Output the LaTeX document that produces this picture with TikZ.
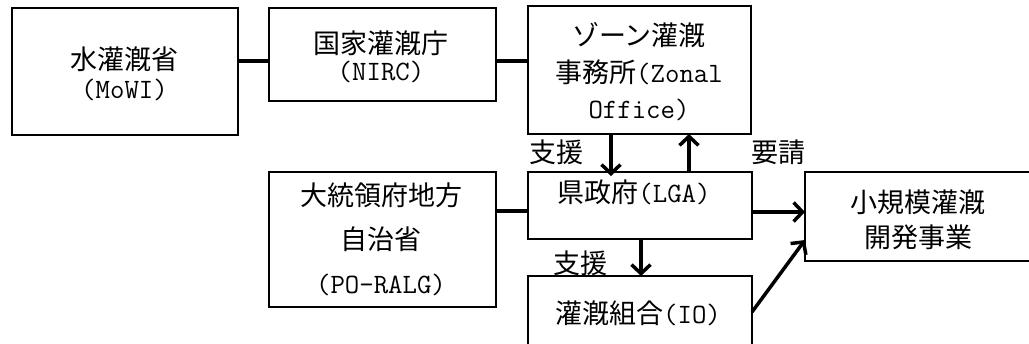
\documentclass[tikz,border=0pt]{standalone}
\usepackage{fontspec}
\newfontfamily\jp{Noto Sans CJK JP}
\usetikzlibrary{arrows.meta}
\newcommand\latn[1]{{\ttfamily\fontsize{28}{29}\selectfont #1}}
\tikzset{
  box/.style={draw, line width=1.8pt, rectangle, inner sep=0pt, outer sep=0pt},
  txt/.style={inner sep=0pt, align=center},
  conn/.style={line width=3.5pt},
  arr/.style={line width=3.5pt, -{Straight Barb[length=9pt,width=19pt]}},
}
\begin{document}
\begin{tikzpicture}[x=1pt,y=-1pt]
\clip (0,0) rectangle (1029,343);
\fill[white] (0,0) rectangle (1029,343);
% boxes
\node[box, minimum width=226pt, minimum height=127pt] (A) at (125,71.5) {};
\node[box, minimum width=227pt, minimum height=93pt] (B) at (382.5,54.5) {};
\node[box, minimum width=223pt, minimum height=128pt] (C) at (639.5,70) {};
\node[box, minimum width=227pt, minimum height=135pt] (D) at (382.5,239.5) {};
\node[box, minimum width=224pt, minimum height=67pt] (E) at (640,205.5) {};
\node[box, minimum width=224pt, minimum height=104pt] (F) at (640,328) {};
\node[box, minimum width=255pt, minimum height=89pt] (G) at (932.5,216.5) {};
% texts
\node[txt, font=\jp\fontsize{27}{29}\selectfont] (tA) at (124.5,74) {水灌漑省\\\latn{(MoWI)}};
\node[txt, font=\jp\fontsize{27}{27}\selectfont] (tB) at (381,57) {国家灌漑庁\\\latn{(NIRC)}};
\node[txt, font=\jp\fontsize{27}{36.5}\selectfont] (tC) at (639,72) {ゾーン灌漑\\事務所\latn{(Zonal}\\\latn{Office)}};
\node[txt, font=\jp\fontsize{27}{44}\selectfont] (tD) at (381,239) {大統領府地方\\自治省\\\latn{(PO-RALG)}};
\node[txt, font=\jp\fontsize{27}{29}\selectfont] (tE) at (634,192.5) {県政府\latn{(LGA)}};
\node[txt, font=\jp\fontsize{27}{29}\selectfont] (tF) at (638,313) {灌漑組合\latn{(IO)}};
\node[txt, font=\jp\fontsize{27}{35}\selectfont] (tG) at (918,219.5) {小規模灌漑\\開発事業};
% labels
\node[txt, font=\jp\fontsize{27}{29}\selectfont] (l1) at (556,152) {支援};
\node[txt, font=\jp\fontsize{27}{29}\selectfont] (l2) at (778,152) {要請};
\node[txt, font=\jp\fontsize{27}{29}\selectfont] (l3) at (580,263) {支援};
% connectors
\draw[conn] (A.east |- 0,61) -- (B.west |- 0,61);
\draw[conn] (B.east |- 0,61) -- (C.west |- 0,61);
\draw[conn] (D.east |- 0,211) -- (E.west |- 0,211);
\draw[arr] (E.east |- 0,212) -- (G.west |- 0,212);
\draw[arr] (F.east |- 0,312) -- (G.west |- 0,240);
\draw[arr, shorten >=-4pt] (C.south -| 611,0) -- (E.north -| 611,0);
\draw[arr] (E.north -| 689,0) -- (C.south -| 689,0);
\draw[arr] (E.south -| 641,0) -- (F.north -| 641,0);
\end{tikzpicture}
\end{document}
